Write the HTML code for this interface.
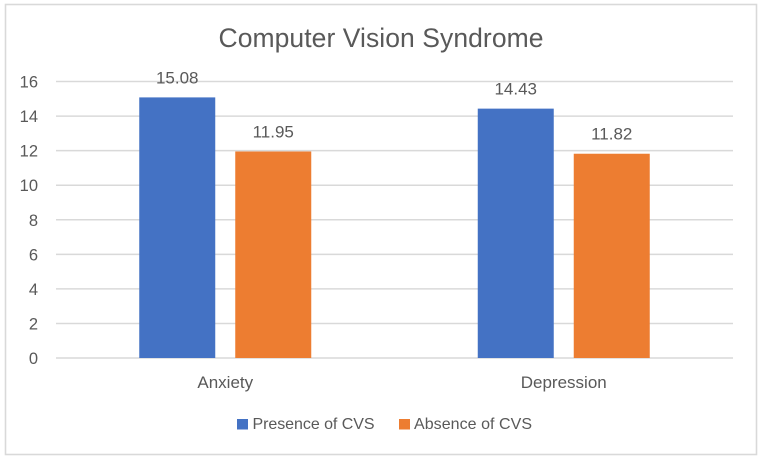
<!DOCTYPE html>
<html>
<head>
<meta charset="utf-8">
<style>
html,body{margin:0;padding:0;background:#fff;width:761px;height:460px;overflow:hidden}
svg{display:block}
text{font-family:"Liberation Sans",sans-serif;fill:#595959}
</style>
</head>
<body>
<svg id="chart" width="761" height="460" viewBox="0 0 761 460" xmlns="http://www.w3.org/2000/svg">
  <rect x="5.5" y="4.5" width="751" height="450" fill="#fff" stroke="#d9d9d9" stroke-width="1.6"/>
  <text x="381" y="47" font-size="26.5" text-anchor="middle" textLength="325" lengthAdjust="spacing">Computer Vision Syndrome</text>
  <g id="grid"></g>
  <g id="ylabels"></g>
  <g id="bars"></g>
  <g id="values"></g>
  <g id="xlabels"></g>
  <g>
    <rect x="237" y="419" width="11" height="10.5" fill="#4472c4"/>
    <text x="252.5" y="429" font-size="16" textLength="122" lengthAdjust="spacing">Presence of CVS</text>
    <rect x="399" y="419" width="11" height="10.5" fill="#ed7d31"/>
    <text x="414" y="429" font-size="16" textLength="118" lengthAdjust="spacing">Absence of CVS</text>
  </g>
</svg>
<script>
const categories = ["Anxiety", "Depression"];
const presenceValues = [15.08, 14.43];
const absenceValues = [11.95, 11.82];
const yTicks = [0, 2, 4, 6, 8, 10, 12, 14, 16];

const NS = "http://www.w3.org/2000/svg";
const plotLeft = 56, plotRight = 733, plotBottom = 358, plotTop = 81.5, yMax = 16;
const barWidth = 76, barOffset = 10;
const seriesList = [
  {key: "presence", values: presenceValues, color: "#4472c4", dir: -1},
  {key: "absence", values: absenceValues, color: "#ed7d31", dir: 1}
];
function yScale(v) { return plotBottom - (v / yMax) * (plotBottom - plotTop); }
function xCenter(i) { return plotLeft + (i + 0.5) * (plotRight - plotLeft) / categories.length; }
function make(tag, attrs, parent, txt) {
  const el = document.createElementNS(NS, tag);
  for (const k in attrs) el.setAttribute(k, attrs[k]);
  if (txt !== undefined) el.textContent = txt;
  parent.appendChild(el);
  return el;
}
const gridG = document.getElementById("grid");
const ylabG = document.getElementById("ylabels");
yTicks.forEach(function (t) {
  const line = make("line", {x1: plotLeft, x2: plotRight, y1: yScale(t), y2: yScale(t), stroke: "#d9d9d9", "stroke-width": 1.5}, gridG);
  
  
  const lab = make("text", {x: 38, y: yScale(t) + 6, "font-size": 16.5, "text-anchor": "end"}, ylabG, t);
  
  
});
const barsG = document.getElementById("bars");
const valG = document.getElementById("values");
const xlabG = document.getElementById("xlabels");
categories.forEach(function (c, i) {
  const cx = xCenter(i);
  seriesList.forEach(function (s) {
    const v = s.values[i];
    const x = s.dir < 0 ? cx - barOffset - barWidth : cx + barOffset;
    const bar = make("rect", {x: x, y: yScale(v), width: barWidth, height: plotBottom - yScale(v), fill: s.color}, barsG);
    
    
    const lab = make("text", {x: x + barWidth / 2, y: yScale(v) - 14, "font-size": 17, "text-anchor": "middle"}, valG, v.toFixed(2));
    
    
  });
  const xl = make("text", {x: cx, y: 388, "font-size": 17, "text-anchor": "middle"}, xlabG, c);
  
  
});
</script>
</body>
</html>
